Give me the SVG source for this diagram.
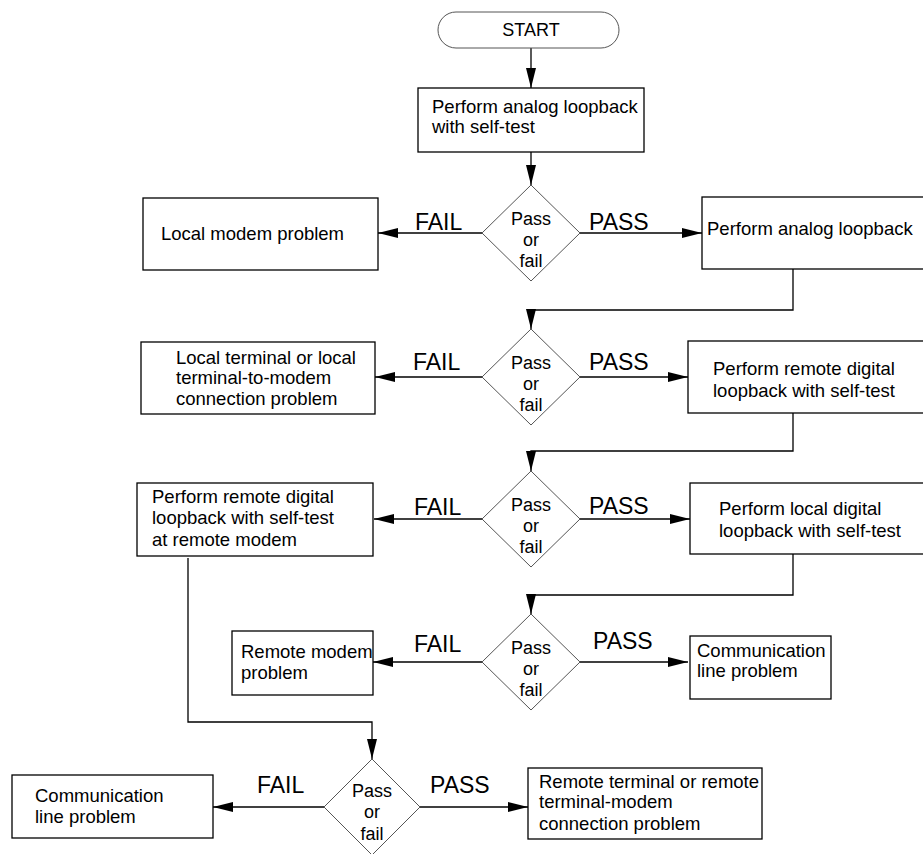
<svg xmlns="http://www.w3.org/2000/svg" width="923" height="854" viewBox="0 0 923 854">
<style>
.box{fill:#fff;stroke:#000;stroke-width:1.3}
.dia{fill:#fff;stroke:#555;stroke-width:1}
.con{fill:none;stroke:#000;stroke-width:1.3;marker-end:url(#ah)}
text{font-family:"Liberation Sans",Arial,sans-serif;fill:#000}
.t{font-size:18.5px}
.d{font-size:18px;text-anchor:middle}
.lbl{font-size:23px}
</style>
<defs>
<marker id="ah" markerUnits="userSpaceOnUse" markerWidth="20" markerHeight="10" refX="20" refY="5" orient="auto">
<path d="M0,0 L20,5 L0,10 Z" fill="#000"/>
</marker>
</defs>
<rect width="923" height="854" fill="#fff"/>
<g id="connectors">
<path class="con" d="M531,48 V88"/>
<path class="con" d="M531,152 V185"/>
<path class="con" d="M482,233 H378"/>
<path class="con" d="M580,233 H702"/>
<path class="con" d="M793,269 V310 H531 V329"/>
<path class="con" d="M482,377 H375"/>
<path class="con" d="M580,377 H688"/>
<path class="con" d="M793,413 V451 H531 V471"/>
<path class="con" d="M482,519 H374"/>
<path class="con" d="M580,519 H690"/>
<path class="con" d="M793,554 V595 H531 V614"/>
<path class="con" d="M482,662 H373"/>
<path class="con" d="M580,662 H688"/>
<path class="con" d="M188,558 V722 H372 V759"/>
<path class="con" d="M324,807 H213"/>
<path class="con" d="M420,807 H528"/>
</g>
<g id="labels">
<text class="lbl" x="415" y="230">FAIL</text>
<text class="lbl" x="589" y="230">PASS</text>
<text class="lbl" x="413" y="370">FAIL</text>
<text class="lbl" x="589" y="370">PASS</text>
<text class="lbl" x="414" y="515">FAIL</text>
<text class="lbl" x="589" y="514">PASS</text>
<text class="lbl" x="414" y="652">FAIL</text>
<text class="lbl" x="593" y="649">PASS</text>
<text class="lbl" x="257" y="793">FAIL</text>
<text class="lbl" x="430" y="793">PASS</text>
</g>
<g id="start">
<rect class="box" x="438" y="12" width="181" height="36" rx="18" ry="18" style="stroke:#555;stroke-width:1"/>
<text class="t" x="531" y="36" text-anchor="middle" style="font-size:18px">START</text>
</g>
<g id="box1">
<rect class="box" x="418" y="88" width="226" height="64"/>
<text class="t" x="432" y="113">Perform analog loopback</text>
<text class="t" x="432" y="133">with self-test</text>
</g>
<g id="d1">
<polygon class="dia" points="531,185 580,233 531,281 482,233"/>
<text class="d" x="531" y="225">Pass</text>
<text class="d" x="531" y="246">or</text>
<text class="d" x="531" y="267">fail</text>
</g>
<g id="localModem">
<rect class="box" x="143" y="198" width="235" height="72"/>
<text class="t" x="161" y="240">Local modem problem</text>
</g>
<g id="box2">
<rect class="box" x="702" y="197" width="240" height="72"/>
<text class="t" x="707" y="235">Perform analog loopback</text>
</g>
<g id="d2">
<polygon class="dia" points="531,329 580,377 531,425 482,377"/>
<text class="d" x="531" y="369">Pass</text>
<text class="d" x="531" y="390">or</text>
<text class="d" x="531" y="411">fail</text>
</g>
<g id="localTerminal">
<rect class="box" x="141" y="342" width="234" height="72"/>
<text class="t" x="176" y="364">Local terminal or local</text>
<text class="t" x="176" y="384">terminal-to-modem</text>
<text class="t" x="176" y="405">connection problem</text>
</g>
<g id="box3">
<rect class="box" x="688" y="341" width="250" height="72"/>
<text class="t" x="713" y="375">Perform remote digital</text>
<text class="t" x="713" y="397">loopback with self-test</text>
</g>
<g id="d3">
<polygon class="dia" points="531,471 580,519 531,567 482,519"/>
<text class="d" x="531" y="511">Pass</text>
<text class="d" x="531" y="532">or</text>
<text class="d" x="531" y="553">fail</text>
</g>
<g id="remoteDigital">
<rect class="box" x="137" y="483" width="236" height="73"/>
<text class="t" x="152" y="503">Perform remote digital</text>
<text class="t" x="152" y="524">loopback with self-test</text>
<text class="t" x="152" y="546">at remote modem</text>
</g>
<g id="box4">
<rect class="box" x="690" y="483" width="250" height="71"/>
<text class="t" x="719" y="515">Perform local digital</text>
<text class="t" x="719" y="537">loopback with self-test</text>
</g>
<g id="d4">
<polygon class="dia" points="531,614 580,662 531,710 482,662"/>
<text class="d" x="531" y="654">Pass</text>
<text class="d" x="531" y="675">or</text>
<text class="d" x="531" y="696">fail</text>
</g>
<g id="remoteModem">
<rect class="box" x="232" y="631" width="141" height="64"/>
<text class="t" x="241" y="658">Remote modem</text>
<text class="t" x="241" y="679">problem</text>
</g>
<g id="commLine1">
<rect class="box" x="690" y="636" width="141" height="63"/>
<text class="t" x="697" y="657">Communication</text>
<text class="t" x="697" y="677">line problem</text>
</g>
<g id="d5">
<polygon class="dia" points="372,759 420,807 372,855 324,807"/>
<text class="d" x="372" y="797">Pass</text>
<text class="d" x="372" y="818">or</text>
<text class="d" x="372" y="840">fail</text>
</g>
<g id="commLine2">
<rect class="box" x="12" y="775" width="201" height="63"/>
<text class="t" x="35" y="802">Communication</text>
<text class="t" x="35" y="823">line problem</text>
</g>
<g id="remoteTerminal">
<rect class="box" x="528" y="768" width="234" height="71"/>
<text class="t" x="539" y="788">Remote terminal or remote</text>
<text class="t" x="539" y="808">terminal-modem</text>
<text class="t" x="539" y="830">connection problem</text>
</g>
</svg>
